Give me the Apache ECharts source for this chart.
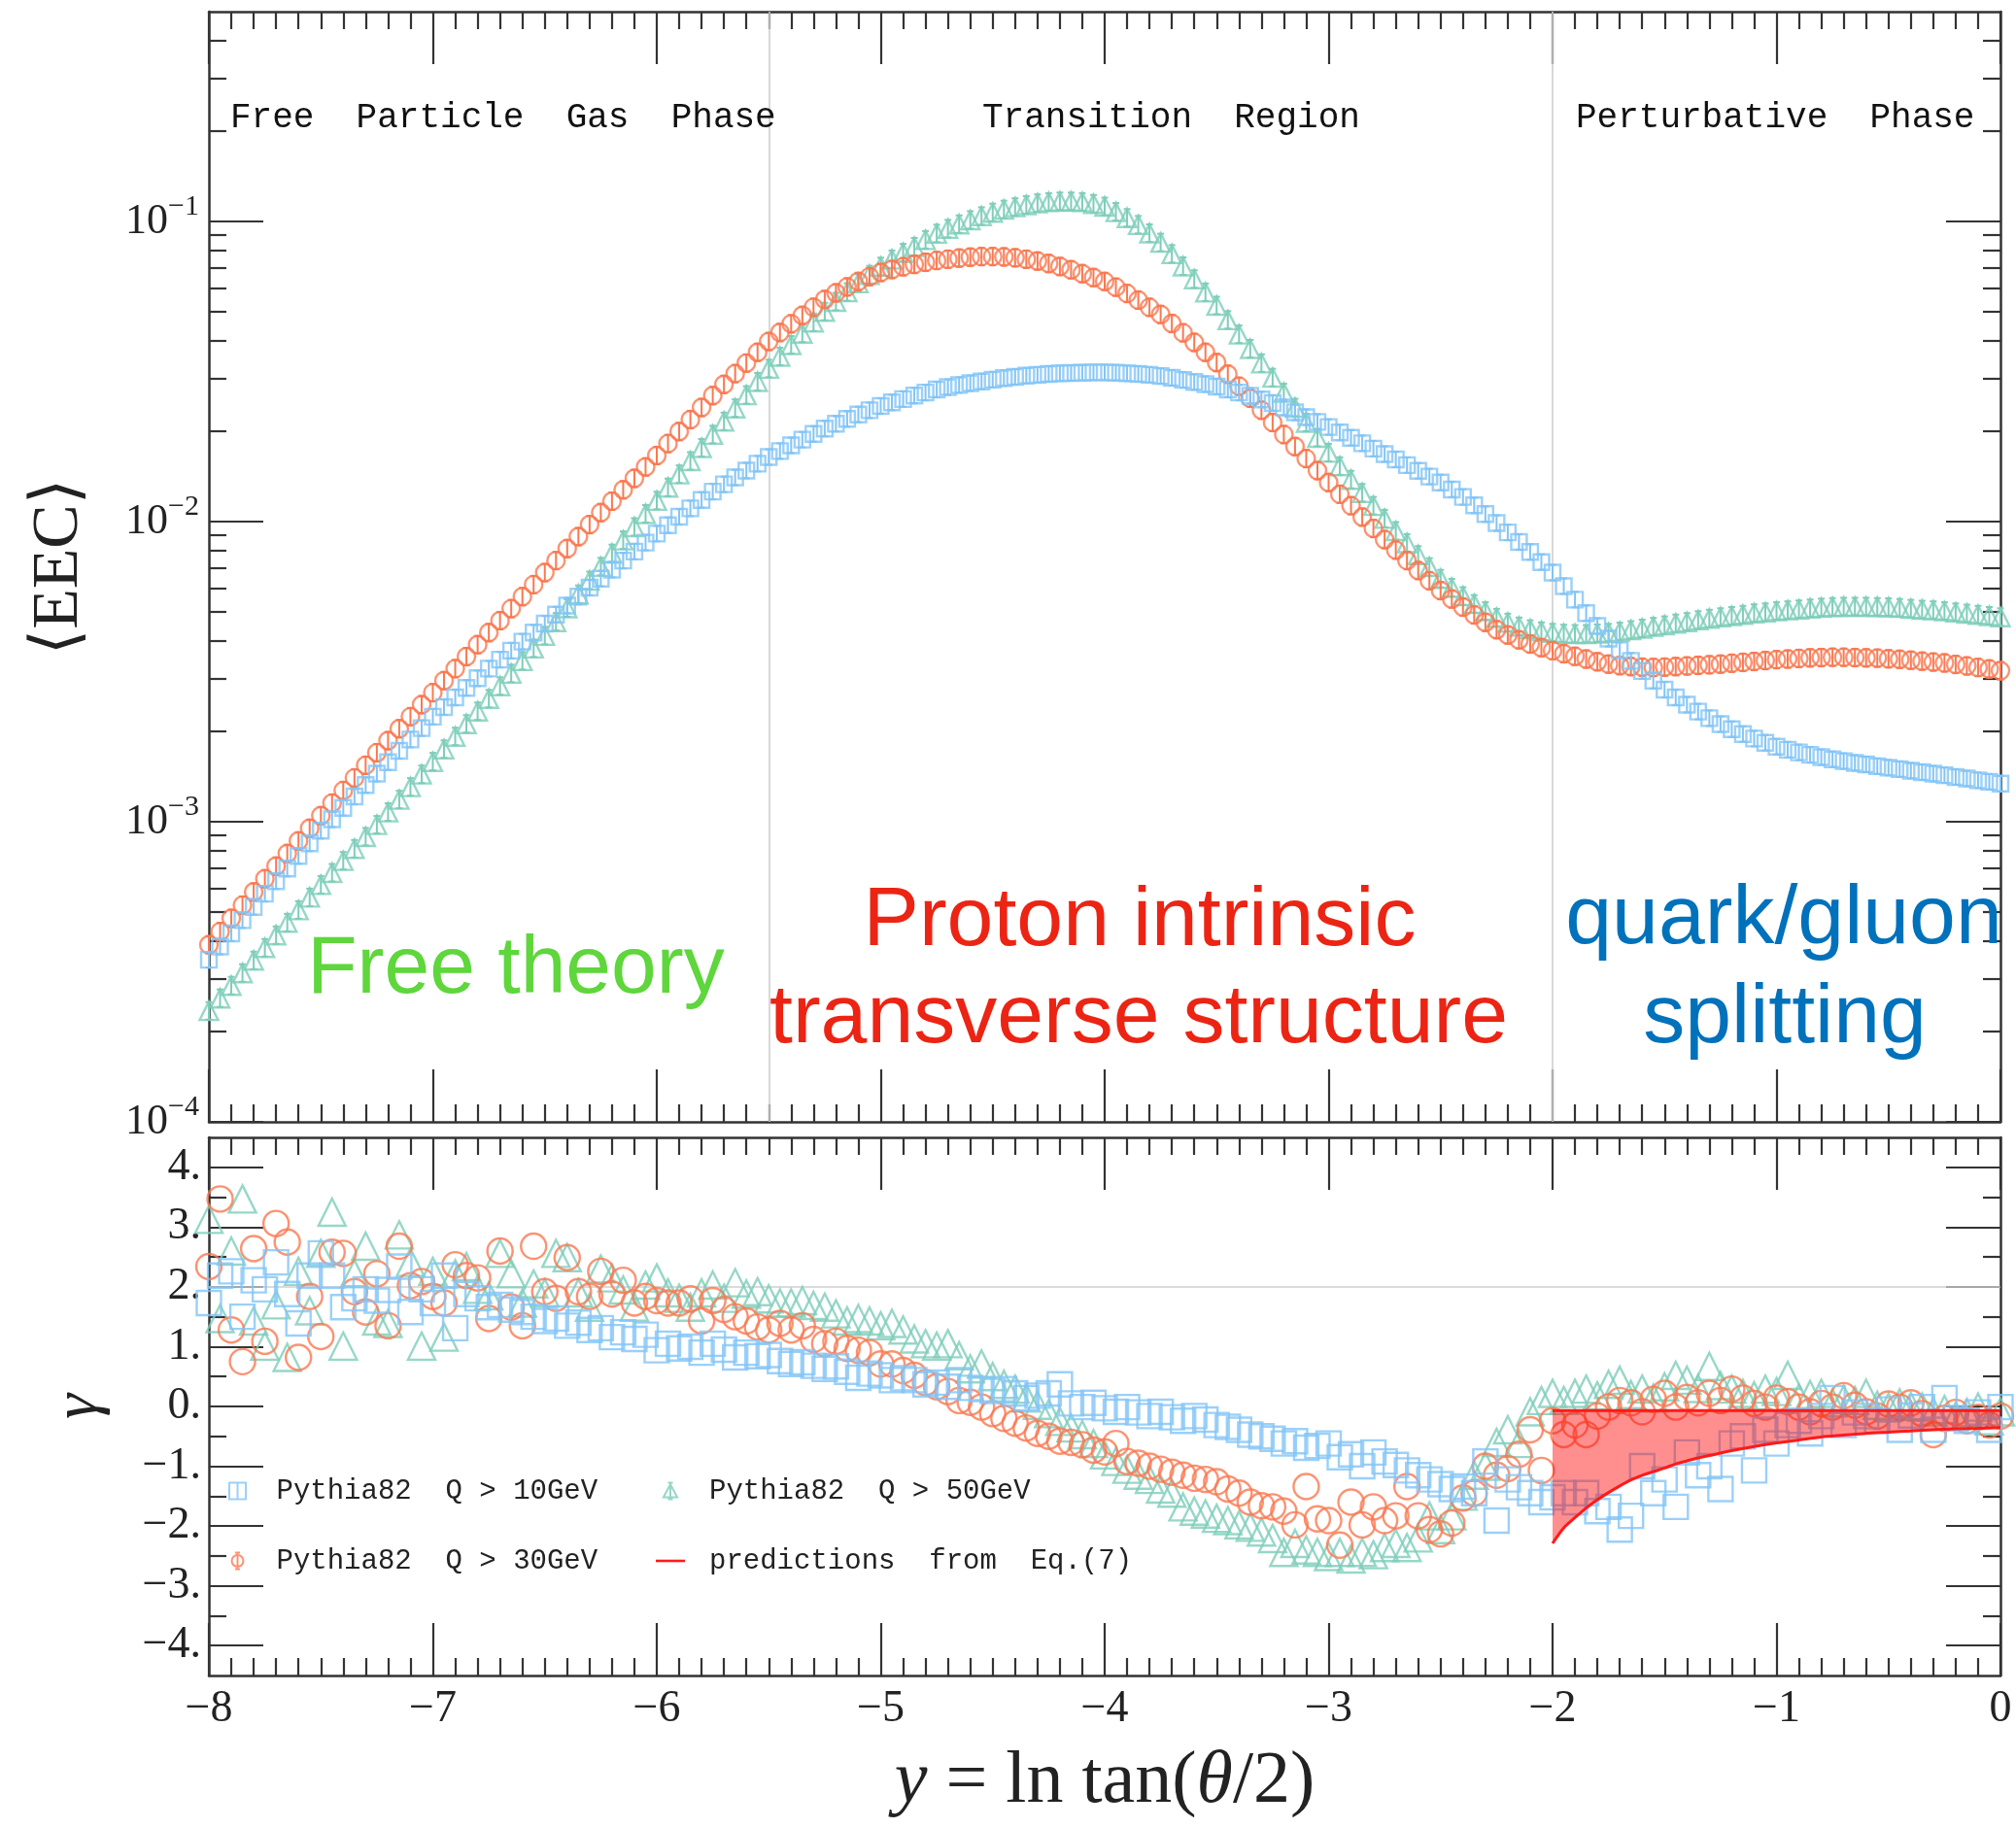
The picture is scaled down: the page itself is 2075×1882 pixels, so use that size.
<!DOCTYPE html>
<html>
<head>
<meta charset="utf-8">
<script src="https://cdn.jsdelivr.net/npm/echarts@6.0.0/dist/echarts.min.js"></script>
<style>
  html, body { margin: 0; padding: 0; background: #ffffff; }
  #chart { width: 2075px; height: 1882px; }
</style>
</head>
<body>
<div id="chart"></div>
<script>
// Bin centres in y = ln tan(theta/2)
const yBins = [
  -8.00,-7.95,-7.90,-7.85,-7.80,-7.75,-7.70,-7.65,-7.60,-7.55,
  -7.50,-7.45,-7.40,-7.35,-7.30,-7.25,-7.20,-7.15,-7.10,-7.05,
  -7.00,-6.95,-6.90,-6.85,-6.80,-6.75,-6.70,-6.65,-6.60,-6.55,
  -6.50,-6.45,-6.40,-6.35,-6.30,-6.25,-6.20,-6.15,-6.10,-6.05,
  -6.00,-5.95,-5.90,-5.85,-5.80,-5.75,-5.70,-5.65,-5.60,-5.55,
  -5.50,-5.45,-5.40,-5.35,-5.30,-5.25,-5.20,-5.15,-5.10,-5.05,
  -5.00,-4.95,-4.90,-4.85,-4.80,-4.75,-4.70,-4.65,-4.60,-4.55,
  -4.50,-4.45,-4.40,-4.35,-4.30,-4.25,-4.20,-4.15,-4.10,-4.05,
  -4.00,-3.95,-3.90,-3.85,-3.80,-3.75,-3.70,-3.65,-3.60,-3.55,
  -3.50,-3.45,-3.40,-3.35,-3.30,-3.25,-3.20,-3.15,-3.10,-3.05,
  -3.00,-2.95,-2.90,-2.85,-2.80,-2.75,-2.70,-2.65,-2.60,-2.55,
  -2.50,-2.45,-2.40,-2.35,-2.30,-2.25,-2.20,-2.15,-2.10,-2.05,
  -2.00,-1.95,-1.90,-1.85,-1.80,-1.75,-1.70,-1.65,-1.60,-1.55,
  -1.50,-1.45,-1.40,-1.35,-1.30,-1.25,-1.20,-1.15,-1.10,-1.05,
  -1.00,-0.95,-0.90,-0.85,-0.80,-0.75,-0.70,-0.65,-0.60,-0.55,
  -0.50,-0.45,-0.40,-0.35,-0.30,-0.25,-0.20,-0.15,-0.10,-0.05,
  0.00
];

// log10 <EEC>, Pythia82 Q > 10 GeV
const log10EEC_Q10 = [
  -3.460,-3.416,-3.372,-3.328,-3.284,-3.240,-3.198,-3.156,-3.114,-3.072,
  -3.030,-2.992,-2.954,-2.916,-2.878,-2.840,-2.802,-2.764,-2.726,-2.688,
  -2.650,-2.618,-2.586,-2.554,-2.522,-2.490,-2.460,-2.430,-2.400,-2.370,
  -2.340,-2.310,-2.280,-2.250,-2.220,-2.190,-2.160,-2.130,-2.100,-2.070,
  -2.040,-2.012,-1.984,-1.956,-1.928,-1.900,-1.876,-1.853,-1.830,-1.807,
  -1.785,-1.765,-1.746,-1.727,-1.708,-1.690,-1.674,-1.658,-1.643,-1.629,
  -1.615,-1.603,-1.592,-1.580,-1.570,-1.560,-1.552,-1.545,-1.539,-1.533,
  -1.527,-1.522,-1.518,-1.514,-1.511,-1.508,-1.506,-1.505,-1.504,-1.503,
  -1.503,-1.504,-1.506,-1.508,-1.511,-1.515,-1.521,-1.528,-1.535,-1.542,
  -1.550,-1.560,-1.570,-1.581,-1.593,-1.605,-1.620,-1.636,-1.652,-1.668,
  -1.685,-1.703,-1.721,-1.739,-1.757,-1.775,-1.793,-1.812,-1.831,-1.850,
  -1.870,-1.893,-1.918,-1.946,-1.975,-2.005,-2.036,-2.068,-2.101,-2.135,
  -2.170,-2.215,-2.260,-2.305,-2.348,-2.390,-2.428,-2.464,-2.498,-2.530,
  -2.560,-2.586,-2.610,-2.633,-2.655,-2.675,-2.692,-2.708,-2.723,-2.737,
  -2.750,-2.760,-2.769,-2.777,-2.785,-2.792,-2.798,-2.804,-2.809,-2.815,
  -2.820,-2.825,-2.830,-2.835,-2.840,-2.845,-2.851,-2.856,-2.862,-2.867,
  -2.873
];

// log10 <EEC>, Pythia82 Q > 30 GeV
const log10EEC_Q30 = [
  -3.410,-3.366,-3.322,-3.278,-3.234,-3.190,-3.148,-3.106,-3.064,-3.022,
  -2.980,-2.938,-2.896,-2.854,-2.812,-2.770,-2.730,-2.690,-2.650,-2.610,
  -2.570,-2.530,-2.490,-2.450,-2.410,-2.370,-2.330,-2.290,-2.250,-2.210,
  -2.170,-2.130,-2.090,-2.050,-2.010,-1.970,-1.932,-1.894,-1.856,-1.818,
  -1.780,-1.740,-1.700,-1.660,-1.620,-1.580,-1.543,-1.507,-1.472,-1.436,
  -1.400,-1.370,-1.341,-1.313,-1.286,-1.260,-1.238,-1.218,-1.200,-1.184,
  -1.170,-1.160,-1.151,-1.143,-1.136,-1.130,-1.126,-1.122,-1.119,-1.117,
  -1.117,-1.118,-1.121,-1.126,-1.132,-1.140,-1.150,-1.161,-1.174,-1.187,
  -1.200,-1.219,-1.240,-1.262,-1.286,-1.310,-1.340,-1.371,-1.403,-1.436,
  -1.470,-1.509,-1.549,-1.589,-1.629,-1.670,-1.710,-1.750,-1.790,-1.830,
  -1.870,-1.909,-1.947,-1.985,-2.023,-2.060,-2.095,-2.130,-2.163,-2.197,
  -2.230,-2.258,-2.285,-2.311,-2.336,-2.360,-2.378,-2.394,-2.408,-2.420,
  -2.430,-2.440,-2.449,-2.458,-2.467,-2.475,-2.480,-2.483,-2.485,-2.486,
  -2.485,-2.483,-2.481,-2.479,-2.477,-2.475,-2.472,-2.469,-2.466,-2.463,
  -2.460,-2.458,-2.456,-2.454,-2.453,-2.452,-2.452,-2.453,-2.454,-2.455,
  -2.457,-2.459,-2.462,-2.465,-2.468,-2.471,-2.476,-2.481,-2.486,-2.491,
  -2.497
];

// log10 <EEC>, Pythia82 Q > 50 GeV
const log10EEC_Q50 = [
  -3.630,-3.588,-3.546,-3.504,-3.462,-3.420,-3.378,-3.336,-3.294,-3.252,
  -3.210,-3.170,-3.130,-3.090,-3.050,-3.010,-2.968,-2.926,-2.884,-2.842,
  -2.800,-2.758,-2.716,-2.674,-2.632,-2.590,-2.548,-2.506,-2.464,-2.422,
  -2.380,-2.334,-2.288,-2.242,-2.196,-2.150,-2.106,-2.062,-2.018,-1.974,
  -1.930,-1.886,-1.842,-1.798,-1.754,-1.710,-1.666,-1.622,-1.578,-1.534,
  -1.490,-1.450,-1.411,-1.373,-1.336,-1.300,-1.267,-1.235,-1.205,-1.177,
  -1.150,-1.126,-1.104,-1.084,-1.061,-1.040,-1.024,-1.009,-0.995,-0.982,
  -0.970,-0.960,-0.952,-0.945,-0.939,-0.935,-0.933,-0.933,-0.935,-0.941,
  -0.950,-0.968,-0.988,-1.011,-1.039,-1.070,-1.108,-1.149,-1.192,-1.236,
  -1.280,-1.328,-1.376,-1.424,-1.472,-1.520,-1.570,-1.620,-1.670,-1.720,
  -1.770,-1.815,-1.860,-1.904,-1.947,-1.990,-2.031,-2.071,-2.111,-2.151,
  -2.190,-2.220,-2.248,-2.274,-2.298,-2.320,-2.336,-2.349,-2.358,-2.365,
  -2.370,-2.373,-2.374,-2.374,-2.372,-2.370,-2.366,-2.361,-2.356,-2.350,
  -2.345,-2.339,-2.334,-2.328,-2.323,-2.318,-2.314,-2.310,-2.305,-2.302,
  -2.298,-2.295,-2.292,-2.289,-2.286,-2.284,-2.283,-2.283,-2.283,-2.284,
  -2.285,-2.287,-2.290,-2.293,-2.295,-2.298,-2.302,-2.306,-2.310,-2.314,
  -2.318
];

// Local slope gamma, Pythia82 Q > 10 GeV
const gammaQ10 = [
  1.73,2.19,2.26,1.50,2.11,1.96,2.41,1.88,1.39,2.19,
  2.56,2.19,1.66,1.81,1.96,1.77,1.95,2.34,1.58,1.96,
  1.73,2.19,1.31,1.88,1.81,1.66,1.70,1.62,1.58,1.50,
  1.43,1.47,1.35,1.40,1.28,1.31,1.16,1.24,1.13,1.20,
  0.94,1.05,0.97,1.00,0.90,1.05,0.95,0.82,0.90,0.84,
  0.86,0.76,0.71,0.74,0.68,0.63,0.67,0.58,0.48,0.55,
  0.52,0.44,0.47,0.44,0.37,0.40,0.33,0.44,0.31,0.29,
  0.26,0.29,0.22,0.14,0.18,0.22,0.37,0.05,-0.01,0.06,
  -0.03,-0.09,-0.01,-0.10,-0.16,-0.09,-0.18,-0.24,-0.16,-0.22,
  -0.31,-0.34,-0.39,-0.47,-0.50,-0.54,-0.62,-0.58,-0.69,-0.66,
  -0.62,-0.85,-0.80,-1.00,-0.77,-0.92,-0.98,-1.07,-1.15,-1.22,
  -1.30,-1.38,-1.34,-1.45,-0.92,-1.91,-1.22,-1.35,-1.45,-1.60,
  -1.52,-1.45,-1.60,-1.45,-1.75,-1.68,-2.06,-1.83,-1.00,-1.45,
  -1.22,-1.68,-0.77,-1.15,-1.00,-1.38,-0.62,-0.50,-1.07,-0.39,
  -0.62,-0.31,-0.24,-0.45,-0.16,0.14,-0.31,-0.10,-0.16,-0.24,
  -0.05,-0.39,-0.15,-0.01,-0.39,0.14,-0.20,-0.24,-0.10,-0.39,
  -0.01
];

// Local slope gamma, Pythia82 Q > 30 GeV
const gammaQ30 = [
  2.34,3.47,1.28,0.75,2.64,1.09,3.06,2.75,0.82,1.84,
  1.17,2.58,2.56,1.92,1.58,2.22,1.35,2.68,2.02,2.09,
  1.84,1.73,2.37,2.19,2.15,1.47,2.60,1.66,1.35,2.68,
  1.92,1.81,2.49,1.92,1.84,2.26,1.88,2.11,1.73,1.84,
  1.77,1.73,1.73,1.80,1.43,1.77,1.62,1.50,1.43,1.33,
  1.28,1.39,1.28,1.35,1.12,1.05,1.09,0.97,0.94,0.90,
  0.71,0.71,0.60,0.52,0.40,0.33,0.25,0.10,0.07,-0.01,
  -0.12,-0.20,-0.28,-0.36,-0.45,-0.50,-0.58,-0.60,-0.64,-0.73,
  -0.76,-0.62,-0.92,-0.95,-1.00,-1.05,-1.10,-1.15,-1.20,-1.22,
  -1.26,-1.38,-1.45,-1.60,-1.66,-1.68,-1.75,-1.98,-1.34,-1.88,
  -1.91,-2.32,-1.60,-1.98,-1.68,-1.91,-1.83,-1.34,-1.83,-2.06,
  -2.13,-1.95,-1.53,-1.45,-1.00,-1.15,-1.04,-0.80,-0.39,-1.07,
  -0.24,-0.47,-0.31,-0.47,-0.16,-0.01,0.10,0.06,-0.09,0.12,
  0.22,-0.01,0.15,0.06,0.22,0.10,0.29,0.14,0.05,-0.01,
  0.14,0.08,-0.01,-0.09,0.05,-0.01,0.18,0.02,-0.09,-0.16,
  0.04,-0.01,0.06,-0.12,-0.47,-0.20,-0.10,-0.24,-0.18,-0.31,
  -0.16
];

// Local slope gamma, Pythia82 Q > 50 GeV
const gammaQ50 = [
  3.13,1.47,2.60,3.47,1.43,1.01,1.70,0.82,2.26,1.60,
  2.56,3.25,1.01,2.22,2.68,1.43,1.39,2.87,2.41,1.01,
  2.26,1.16,2.22,2.34,1.96,1.85,2.56,2.22,1.73,2.05,
  1.90,2.56,2.49,1.90,1.66,2.30,2.15,1.95,1.66,2.03,
  2.15,1.90,1.81,1.66,1.90,2.03,1.81,2.07,1.88,1.92,
  1.80,1.73,1.73,1.77,1.69,1.66,1.55,1.43,1.47,1.43,
  1.35,1.39,1.28,1.13,1.05,1.01,1.05,0.85,0.63,0.71,
  0.50,0.37,0.29,0.14,0.02,-0.12,-0.25,-0.36,-0.47,-0.62,
  -0.81,-0.92,-1.05,-1.15,-1.22,-1.38,-1.45,-1.68,-1.75,-1.80,
  -1.87,-1.91,-1.98,-2.02,-2.10,-2.21,-2.44,-2.29,-2.40,-2.44,
  -2.51,-2.44,-2.55,-2.44,-2.48,-2.36,-2.29,-2.36,-2.20,-1.83,
  -2.06,-1.83,-1.50,-1.15,-1.00,-0.60,-0.39,-0.62,-0.09,0.10,
  0.22,0.10,0.22,0.29,0.18,0.37,0.44,0.20,0.29,0.14,
  0.33,0.52,0.44,0.30,0.67,0.35,0.29,0.22,0.18,0.29,
  0.25,0.52,0.14,0.20,0.22,0.06,0.12,0.10,0.22,0.02,
  -0.01,0.06,0.00,-0.01,-0.09,-0.05,-0.16,-0.10,-0.01,-0.24,
  -0.09
];

// Prediction band from Eq.(7), perturbative region
const bandX = [-2.00,-1.95,-1.90,-1.85,-1.80,-1.75,-1.70,-1.65,-1.60,-1.55,-1.50,-1.45,-1.40,-1.35,
               -1.30,-1.20,-1.10,-1.00,-0.90,-0.80,-0.70,-0.60,-0.50,-0.40,-0.30,-0.20,-0.10,0.00];
const bandLower = [-2.29,-2.03,-1.86,-1.70,-1.56,-1.44,-1.33,-1.23,-1.15,-1.09,-1.03,-0.96,-0.91,-0.86,
                   -0.82,-0.74,-0.67,-0.61,-0.56,-0.51,-0.48,-0.45,-0.43,-0.41,-0.39,-0.375,-0.365,-0.355];
const bandUpper = [-0.07,-0.07,-0.07,-0.07,-0.07,-0.07,-0.07,-0.07,-0.07,-0.07,-0.07,-0.07,-0.07,-0.07,
                   -0.07,-0.07,-0.07,-0.07,-0.07,-0.07,-0.07,-0.07,-0.07,-0.07,-0.07,-0.07,-0.07,-0.07];

// Axis ticks
const decadeTicks = [-4, -3, -2, -1];
const gammaTicks = [-4, -3, -2, -1, 0, 1, 2, 3, 4];
const gammaHalfTicks = [-3.5, -2.5, -1.5, -0.5, 0.5, 1.5, 2.5, 3.5];

const seriesNames = ['Pythia82  Q > 10GeV', 'Pythia82  Q > 30GeV', 'Pythia82  Q > 50GeV'];
const predictionName = 'predictions  from  Eq.(7)';

const BLUE = '#82c4f6';
const ORANGE = '#fa7850';
const GREEN = '#7dcdb9';
const RED = '#ff1a1a';
const INK = '#333333';
const SERIF = '"Liberation Serif", "DejaVu Serif", serif';
const MONO = '"Liberation Mono", "DejaVu Sans Mono", monospace';
const SANS = '"Liberation Sans", Arial, Helvetica, sans-serif';

const LOG_MAX = Math.log10(0.5);
const logMinorTicks = [];
decadeTicks.forEach(function (n) {
  for (let k = 2; k <= 9; k++) {
    const v = n + Math.log10(k);
    if (v < LOG_MAX) logMinorTicks.push(v);
  }
});

function pairs(xs, ys) { return xs.map(function (x, i) { return [x, ys[i]]; }); }
function minusSign(v) { return v < 0 ? '\u2212' + Math.abs(v) : String(v); }

const frameLine = { show: true, onZero: false, lineStyle: { color: INK, width: 2.5 } };
const noLine = { show: false, onZero: false };
const tickStyle = { color: INK, width: 2.2 };

function xFrame(grid, position, withLabels) {
  const ax = {
    gridIndex: grid, type: 'value', position: position, min: -8, max: 0, interval: 1,
    axisLine: frameLine,
    axisTick: { show: true, inside: true, length: 54, lineStyle: tickStyle },
    minorTick: { show: true, splitNumber: 10, length: 18, lineStyle: tickStyle },
    splitLine: { show: false }, minorSplitLine: { show: false },
    axisLabel: { show: false }
  };
  if (withLabels) {
    ax.axisLabel = {
      show: true, margin: 12, fontSize: 46, fontFamily: SERIF, color: '#222',
      formatter: function (v) { return minusSign(v); }
    };
    ax.name = '{i|y} = ln tan({i|\u03B8}/2)';
    ax.nameLocation = 'middle';
    ax.nameGap = 72;
    ax.nameTextStyle = {
      fontSize: 76, fontFamily: SERIF, color: '#222',
      rich: { i: { fontSize: 76, fontFamily: SERIF, fontStyle: 'italic', color: '#222' } }
    };
  }
  return ax;
}
function xHidden(grid) {
  return { gridIndex: grid, type: 'value', min: -8, max: 0, show: false, axisLine: noLine };
}

function yFrame(grid, position, min, max, ticks, tickLen, showLine) {
  return {
    gridIndex: grid, type: 'value', position: position, min: min, max: max,
    axisLine: showLine ? frameLine : noLine,
    axisTick: { show: true, inside: true, length: tickLen, customValues: ticks, lineStyle: tickStyle },
    splitLine: { show: false },
    axisLabel: { show: false }
  };
}

const yTopLeft = yFrame(0, 'left', -4, LOG_MAX, decadeTicks, 56, true);
yTopLeft.axisLabel = {
  show: true, margin: 10, customValues: decadeTicks,
  formatter: function (v) { return '{b|10}{s|\u2212' + Math.abs(v) + '}'; },
  rich: {
    b: { fontSize: 44, fontFamily: SERIF, color: '#222' },
    s: { fontSize: 30, fontFamily: SERIF, color: '#222', padding: [0, 0, 30, 0] }
  }
};
yTopLeft.name = '\u27E8EEC\u27E9';
yTopLeft.nameLocation = 'middle';
yTopLeft.nameRotate = 90;
yTopLeft.nameGap = 120;
yTopLeft.nameTextStyle = { fontSize: 68, fontFamily: SERIF, color: '#222' };

const yBotLeft = yFrame(2, 'left', -4.5, 4.5, gammaTicks, 56, true);
yBotLeft.axisLabel = {
  show: true, margin: 8, customValues: gammaTicks, fontSize: 46, fontFamily: SERIF, color: '#222',
  formatter: function (v) { return minusSign(v) + '.'; }
};
yBotLeft.name = '\u03B3';
yBotLeft.nameLocation = 'middle';
yBotLeft.nameRotate = 90;
yBotLeft.nameGap = 100;
yBotLeft.nameTextStyle = { fontSize: 66, fontFamily: SERIF, fontStyle: 'italic', color: '#222' };

function scatter(name, xi, yi, data, symbol, size, color, z) {
  return {
    name: name, type: 'scatter', xAxisIndex: xi, yAxisIndex: yi, data: data,
    symbol: symbol, symbolSize: size, z: z,
    itemStyle: { color: 'rgba(0,0,0,0)', borderColor: color, borderWidth: 2.4 },
    emphasis: { disabled: true }
  };
}

// Vertical error bars with caps drawn through each marker of the <EEC> panel
function errorBars(data, color, halfLen, z) {
  return {
    type: 'custom', xAxisIndex: 0, yAxisIndex: 0, z: z, silent: true,
    data: data,
    renderItem: function (params, api) {
      const p = api.coord([api.value(0), api.value(1)]);
      const st = { stroke: color, lineWidth: 2, fill: null };
      return {
        type: 'group',
        children: [
          { type: 'line', shape: { x1: p[0], y1: p[1] - halfLen, x2: p[0], y2: p[1] + halfLen }, style: st },
          { type: 'line', shape: { x1: p[0] - 3.5, y1: p[1] - halfLen, x2: p[0] + 3.5, y2: p[1] - halfLen }, style: st },
          { type: 'line', shape: { x1: p[0] - 3.5, y1: p[1] + halfLen, x2: p[0] + 3.5, y2: p[1] + halfLen }, style: st }
        ]
      };
    }
  };
}

const topQ10 = pairs(yBins, log10EEC_Q10);
const topQ30 = pairs(yBins, log10EEC_Q30);
const topQ50 = pairs(yBins, log10EEC_Q50);

const topBlue = scatter(seriesNames[0], 0, 0, topQ10, 'rect', 16, BLUE, 4);
const topOrange = scatter(seriesNames[1], 0, 0, topQ30, 'circle', 18, ORANGE, 3);
const topGreen = scatter(seriesNames[2], 0, 0, topQ50, 'triangle', 19, GREEN, 2);
topGreen.markLine = {
  silent: true, symbol: ['none', 'none'], z: 1, label: { show: false },
  lineStyle: { color: '#cfcfcf', width: 1.6, type: 'solid' },
  data: [{ xAxis: -5.5 }, { xAxis: -2 }]
};

const botBlue = scatter(seriesNames[0], 3, 4, pairs(yBins, gammaQ10), 'rect', 25, BLUE, 4);
const botOrange = scatter(seriesNames[1], 3, 4, pairs(yBins, gammaQ30), 'circle', 26, ORANGE, 3);
const botGreen = scatter(seriesNames[2], 3, 4, pairs(yBins, gammaQ50), 'triangle', 28, GREEN, 2);
botGreen.markLine = {
  silent: true, symbol: ['none', 'none'], z: 1, label: { show: false },
  lineStyle: { color: '#cfcfcf', width: 1.6, type: 'solid' },
  data: [{ yAxis: 2 }]
};

// Shaded region between the two prediction curves
const band = {
  type: 'custom', xAxisIndex: 3, yAxisIndex: 4, z: 6, silent: true,
  data: [[bandX[0], bandUpper[0]]],
  renderItem: function (params, api) {
    const pts = [];
    for (let i = 0; i < bandX.length; i++) pts.push(api.coord([bandX[i], bandUpper[i]]));
    for (let i = bandX.length - 1; i >= 0; i--) pts.push(api.coord([bandX[i], bandLower[i]]));
    return { type: 'polygon', shape: { points: pts, smooth: 0 }, style: { fill: 'rgba(255,0,0,0.44)' } };
  }
};

function redLine(ys) {
  return {
    name: predictionName, type: 'line', xAxisIndex: 3, yAxisIndex: 4, z: 7,
    data: pairs(bandX, ys), symbol: 'none', smooth: 0.3, silent: true,
    lineStyle: { color: RED, width: 3 }, itemStyle: { color: RED }
  };
}

// Legend keys: marker with its error bar, and a short red segment
const ICON_SQUARE = 'path://M1,1H9V9H1Z M5,1V9 M3.5,1H6.5 M3.5,9H6.5';
const ICON_CIRCLE = 'path://M5,1.5A3.5,3.5,0,1,1,5,8.5A3.5,3.5,0,1,1,5,1.5Z M5,0V10 M3.5,0H6.5 M3.5,10H6.5';
const ICON_TRIANGLE = 'path://M5,1L9.2,8.8H0.8Z M5,0V10 M3.5,0H6.5 M3.5,10H6.5';
const ICON_SEGMENT = 'path://M0,0H30V2.6H0Z';

const legendText = { fontFamily: MONO, fontSize: 29, color: '#222', lineHeight: 30, padding: [0, 0, 0, 20] };

function legendBox(items, left) {
  return {
    data: items, orient: 'vertical', left: left, top: 1520,
    padding: 0, itemWidth: 30, itemHeight: 17, itemGap: 42, selectedMode: false,
    textStyle: legendText
  };
}

const option = {
  animation: false,
  backgroundColor: '#ffffff',
  grid: [
    { left: 215, top: 12, width: 1844, height: 1143, containLabel: false, outerBoundsMode: 'none' },
    { left: 215, top: 12, width: 1844, height: 1143, containLabel: false, outerBoundsMode: 'none' },
    { left: 215, top: 1171, width: 1844, height: 554, containLabel: false, outerBoundsMode: 'none' },
    { left: 215, top: 1171, width: 1844, height: 554, containLabel: false, outerBoundsMode: 'none' }
  ],
  xAxis: [
    xFrame(0, 'bottom', false),
    xFrame(0, 'top', false),
    xHidden(1),
    xFrame(2, 'bottom', true),
    xFrame(2, 'top', false),
    xHidden(3)
  ],
  yAxis: [
    yTopLeft,
    yFrame(0, 'right', -4, LOG_MAX, decadeTicks, 56, true),
    yFrame(1, 'left', -4, LOG_MAX, logMinorTicks, 18, false),
    yFrame(1, 'right', -4, LOG_MAX, logMinorTicks, 18, false),
    yBotLeft,
    yFrame(2, 'right', -4.5, 4.5, gammaTicks, 56, true),
    yFrame(3, 'left', -4.5, 4.5, gammaHalfTicks, 18, false),
    yFrame(3, 'right', -4.5, 4.5, gammaHalfTicks, 18, false)
  ],
  legend: [
    legendBox([
      { name: seriesNames[0], icon: ICON_SQUARE },
      { name: seriesNames[1], icon: ICON_CIRCLE }
    ], 235),
    legendBox([
      { name: seriesNames[2], icon: ICON_TRIANGLE },
      { name: predictionName, icon: ICON_SEGMENT }
    ], 675)
  ],
  graphic: [
    { type: 'text', x: 237, y: 121, z: 50, silent: true,
      style: { text: 'Free  Particle  Gas  Phase', font: '36px ' + MONO, fill: '#111',
               align: 'left', verticalAlign: 'middle', textAlign: 'left', textVerticalAlign: 'middle' } },
    { type: 'text', x: 1011, y: 121, z: 50, silent: true,
      style: { text: 'Transition  Region', font: '36px ' + MONO, fill: '#111',
               align: 'left', verticalAlign: 'middle', textAlign: 'left', textVerticalAlign: 'middle' } },
    { type: 'text', x: 1622, y: 121, z: 50, silent: true,
      style: { text: 'Perturbative  Phase', font: '36px ' + MONO, fill: '#111',
               align: 'left', verticalAlign: 'middle', textAlign: 'left', textVerticalAlign: 'middle' } },
    { type: 'text', x: 531, y: 999, z: 50, silent: true,
      style: { text: 'Free theory', font: '84px ' + SANS, fill: '#5ed63c',
               align: 'center', verticalAlign: 'middle', textAlign: 'center', textVerticalAlign: 'middle' } },
    { type: 'text', x: 1173, y: 949, z: 50, silent: true,
      style: { text: 'Proton intrinsic', font: '86px ' + SANS, fill: '#ec2414',
               align: 'center', verticalAlign: 'middle', textAlign: 'center', textVerticalAlign: 'middle' } },
    { type: 'text', x: 1172, y: 1049, z: 50, silent: true,
      style: { text: 'transverse structure', font: '86px ' + SANS, fill: '#ec2414',
               align: 'center', verticalAlign: 'middle', textAlign: 'center', textVerticalAlign: 'middle' } },
    { type: 'text', x: 1836, y: 947, z: 50, silent: true,
      style: { text: 'quark/gluon', font: '86px ' + SANS, fill: '#0071bb',
               align: 'center', verticalAlign: 'middle', textAlign: 'center', textVerticalAlign: 'middle' } },
    { type: 'text', x: 1837, y: 1049, z: 50, silent: true,
      style: { text: 'splitting', font: '86px ' + SANS, fill: '#0071bb',
               align: 'center', verticalAlign: 'middle', textAlign: 'center', textVerticalAlign: 'middle' } }
  ],
  series: [
    topGreen, topOrange, topBlue,
    errorBars(topQ50, GREEN, 9, 2), errorBars(topQ30, ORANGE, 9, 3), errorBars(topQ10, BLUE, 8, 4),
    botGreen, botOrange, botBlue,
    band, redLine(bandLower), redLine(bandUpper)
  ]
};

const chart = echarts.init(document.getElementById('chart'), null, { renderer: 'canvas', width: 2075, height: 1882 });
chart.setOption(option);
</script>
</body>
</html>
